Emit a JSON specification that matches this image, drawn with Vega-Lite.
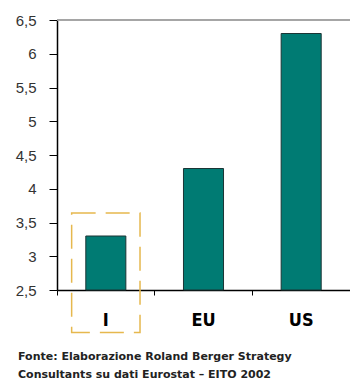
{
  "$schema": "https://vega.github.io/schema/vega-lite/v6.json",
  "width": 293,
  "height": 270,
  "autosize": {"type": "none"},
  "padding": {"left": 57, "top": 20, "right": 0, "bottom": 95},
  "background": "white",
  "config": {"view": {"stroke": null}},
  "data": {
    "values": [
      {"area": "I", "value": 3.3},
      {"area": "EU", "value": 4.3},
      {"area": "US", "value": 6.3}
    ]
  },
  "title": {
    "text": [
      "Fonte: Elaborazione Roland Berger Strategy",
      "Consultants su dati Eurostat – EITO 2002"
    ],
    "orient": "bottom",
    "anchor": "start",
    "frame": "group",
    "dx": -39,
    "offset": 18,
    "font": "DejaVu Sans",
    "fontSize": 11,
    "fontWeight": "bold",
    "lineHeight": 18,
    "color": "#222"
  },
  "encoding": {
    "x": {
      "field": "area",
      "type": "nominal",
      "sort": ["I", "EU", "US"],
      "scale": {"paddingInner": 0, "paddingOuter": 0},
      "axis": {
        "title": null,
        "labelAngle": 0,
        "bandPosition": 0,
        "domainColor": "#000",
        "domainWidth": 1.5,
        "tickColor": "#000",
        "tickSize": 5,
        "labelPadding": 25,
        "labelFont": "DejaVu Sans Condensed, Liberation Sans, sans-serif",
        "labelFontSize": 18,
        "labelFontWeight": "bold",
        "labelColor": "#000",
        "labelBaseline": "middle"
      }
    },
    "y": {
      "field": "value",
      "type": "quantitative",
      "scale": {"domain": [2.5, 6.5], "nice": false, "zero": false},
      "axis": {
        "title": null,
        "values": [2.5, 3, 3.5, 4, 4.5, 5, 5.5, 6, 6.5],
        "labelExpr": "replace(format(datum.value, '.1~f'), '.', ',')",
        "labelOverlap": false,
        "grid": false,
        "domainColor": "#000",
        "domainWidth": 1.5,
        "tickColor": "#000",
        "tickSize": 8,
        "labelPadding": 13,
        "labelFont": "Liberation Sans",
        "labelFontSize": 15,
        "labelColor": "#333"
      }
    }
  },
  "layer": [
    {
      "mark": {
        "type": "bar",
        "width": {"band": 0.41},
        "color": "#007B73",
        "stroke": "#1b3535",
        "strokeWidth": 1
      },
      "encoding": {
        "y2": {"datum": 2.5}
      }
    },
    {
      "mark": {"type": "rule", "color": "#999", "strokeWidth": 1},
      "encoding": {"y": {"datum": 6.5, "type": "quantitative"}, "x": null}
    },
    {
      "transform": [{"filter": "datum.area === 'I'"}],
      "mark": {
        "type": "rect",
        "width": {"band": 0.7},
        "fill": null,
        "stroke": "#E6B84E",
        "strokeWidth": 1.5,
        "strokeDash": [24, 10],
        "clip": false
      },
      "encoding": {
        "y": {"datum": 3.64, "type": "quantitative"},
        "y2": {"datum": 1.87}
      }
    }
  ]
}
